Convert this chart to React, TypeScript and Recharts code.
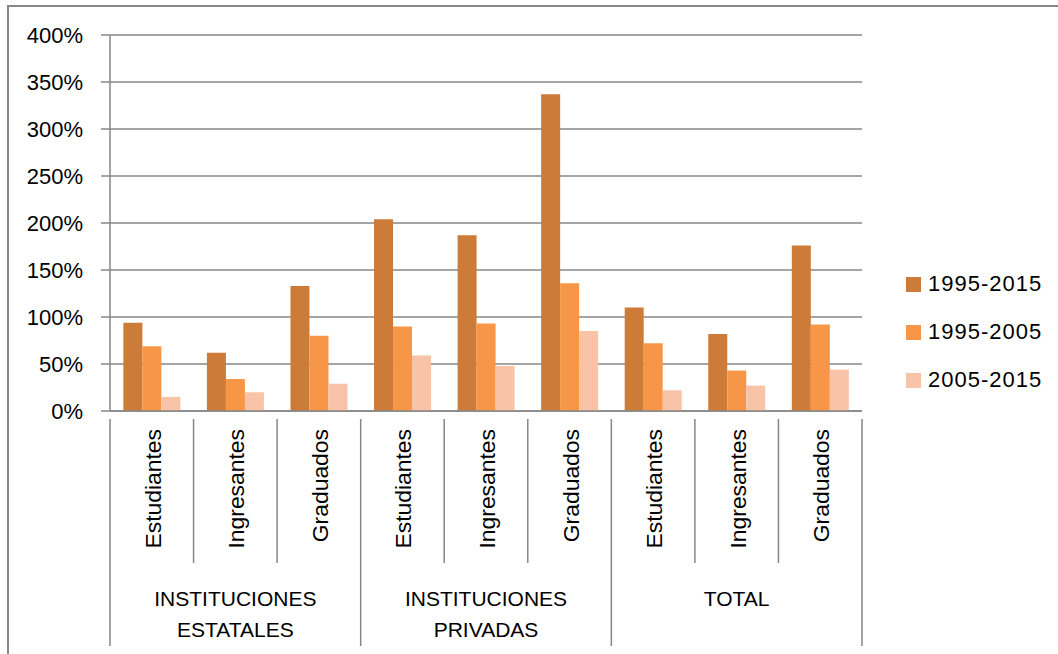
import { BarChart, Bar, XAxis, YAxis, CartesianGrid } from "recharts";

const categories = [
  "Estudiantes", "Ingresantes", "Graduados",
  "Estudiantes", "Ingresantes", "Graduados",
  "Estudiantes", "Ingresantes", "Graduados",
];
const groups = [["INSTITUCIONES", "ESTATALES"], ["INSTITUCIONES", "PRIVADAS"], ["TOTAL"]];
const series1995_2015 = [94, 62, 133, 204, 187, 337, 110, 82, 176];
const series1995_2005 = [69, 34, 80, 90, 93, 136, 72, 43, 92];
const series2005_2015 = [15, 20, 29, 59, 48, 85, 22, 27, 44];
const yTicks = [0, 50, 100, 150, 200, 250, 300, 350, 400];

const SERIES = [
  { key: "1995-2015", color: "#CD7B38" },
  { key: "1995-2005", color: "#F79646" },
  { key: "2005-2015", color: "#F9C3A7" },
];

const data = categories.map((c, i) => ({
  name: c,
  "1995-2015": series1995_2015[i],
  "1995-2005": series1995_2005[i],
  "2005-2015": series2005_2015[i],
}));

const LINE = "#878787";
const FONT = "'Liberation Sans', Arial, sans-serif";
const PLOT_LEFT = 110;
const PLOT_RIGHT = 862;
const BAND = (PLOT_RIGHT - PLOT_LEFT) / categories.length;

function YTick({ x, y, payload }: any) {
  return (
    <text x={x - 16} y={y + 8} textAnchor="end" fontFamily={FONT} fontSize={22} fill="#000">
      {payload.value}%
    </text>
  );
}

function XTick({ x, y, payload, index }: any) {
  const left = x - BAND / 2;
  const groupStart = index % 3 === 0;
  const last = index === categories.length - 1;
  const g = groups[Math.floor(index / 3)];
  return (
    <g>
      <line x1={left} x2={left} y1={y} y2={groupStart ? 646 : 563} stroke={LINE} strokeWidth={1.5} />
      {last && <line x1={left + BAND} x2={left + BAND} y1={y} y2={646} stroke={LINE} strokeWidth={1.5} />}
      <text
        transform={`translate(${x + 9},${429}) rotate(-90) scale(1.04,1)`}
        textAnchor="end"
        fontFamily={FONT}
        fontSize={22}
        fill="#000"
      >
        {payload.value}
      </text>
      {index % 3 === 1 &&
        g.map((t, k) => (
          <text
            key={k}
            x={x}
            y={606 + k * 31}
            textAnchor="middle"
            fontFamily={FONT}
            fontSize={21}
            fill="#000"
          >
            {t}
          </text>
        ))}
    </g>
  );
}

export default function App() {
  return (
    <div style={{ position: "absolute", left: 0, top: 0, width: 1058, height: 654, background: "#fff" }}>
      <div
        style={{
          position: "absolute",
          left: 7,
          top: 5,
          right: 0,
          bottom: 0,
          borderTop: `2px solid ${LINE}`,
          borderLeft: `2px solid ${LINE}`,
        }}
      />
      <BarChart
        width={1058}
        height={654}
        data={data}
        margin={{ top: 35, right: 1058 - PLOT_RIGHT, left: 10, bottom: 8 }}
        barCategoryGap="16%"
        barGap={0}
      >
        <CartesianGrid vertical={false} stroke={LINE} strokeWidth={1.5} />
        <XAxis
          dataKey="name"
          interval={0}
          height={235}
          axisLine={{ stroke: LINE, strokeWidth: 1.5 }}
          tickLine={false}
          tick={<XTick />}
        />
        <YAxis
          width={100}
          domain={[0, 400]}
          ticks={yTicks}
          interval={0}
          axisLine={{ stroke: LINE, strokeWidth: 1.5 }}
          tickLine={{ stroke: LINE, strokeWidth: 1.5 }}
          tickSize={9}
          tick={<YTick />}
        />
        {SERIES.map((s) => (
          <Bar key={s.key} dataKey={s.key} fill={s.color} isAnimationActive={false} />
        ))}
      </BarChart>
      <div style={{ position: "absolute", left: 906, top: 260, fontFamily: FONT, fontSize: 22, letterSpacing: 1 }}>
        {SERIES.map((s) => (
          <div key={s.key} style={{ display: "flex", alignItems: "center", height: 48 }}>
            <span style={{ width: 15, height: 15, background: s.color, marginRight: 7 }} />
            <span style={{ color: "#000" }}>{s.key}</span>
          </div>
        ))}
      </div>
    </div>
  );
}
